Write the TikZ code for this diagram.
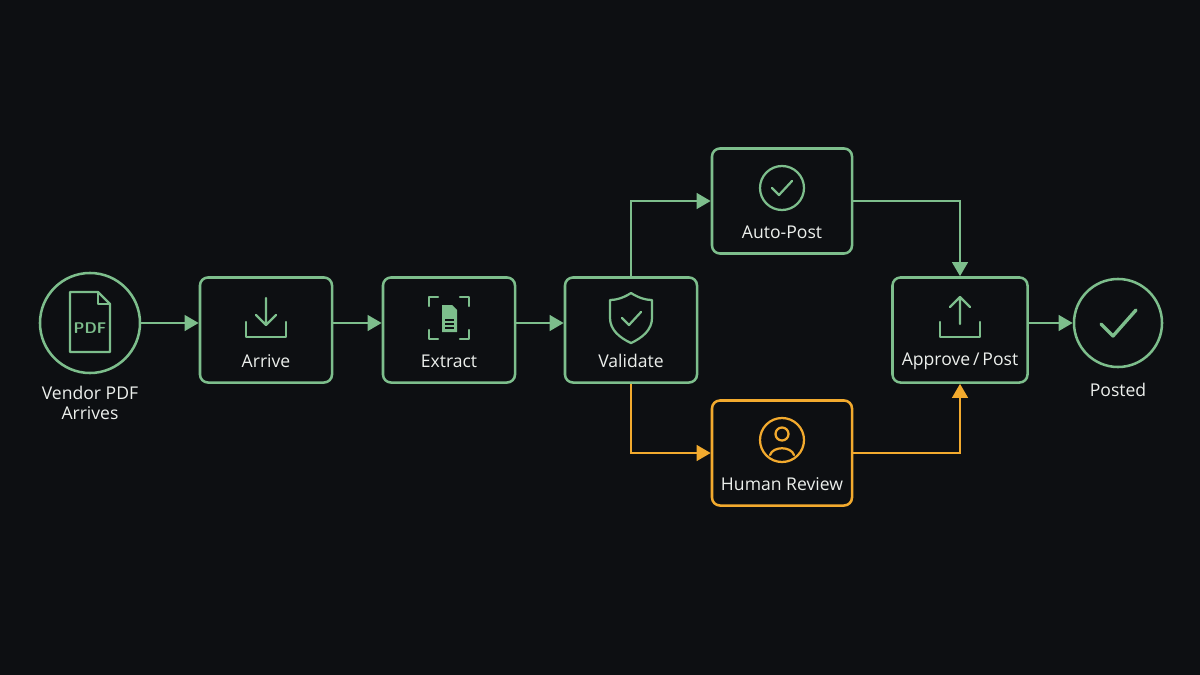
\documentclass[tikz,border=0pt]{standalone}
\usepackage{fontspec}
\setmainfont{Open Sans}
\usetikzlibrary{positioning,arrows.meta}
\definecolor{bgc}{HTML}{0D0F12}
\definecolor{grn}{HTML}{7DBE8C}
\definecolor{org}{HTML}{F2AA2E}
\definecolor{txt}{HTML}{ECEFEC}
\tikzset{
  stage/.style={draw=grn, line width=1.8pt, rounded corners=0.2cm, minimum width=3.3cm, minimum height=2.625cm},
  endc/.style={circle, draw=grn, line width=1.8pt},
  lbl/.style={text=txt, font=\fontsize{12.5}{15}\selectfont, align=center},
  flow/.style={draw=grn, line width=2pt, -{Triangle[length=10pt,width=11pt]}},
  icon/.style={draw=grn, line width=1.6pt, line cap=round, line join=round},
}
\begin{document}
\begin{tikzpicture}[x=0.025cm,y=-0.025cm]
    \fill [bgc] (0,0) rectangle (1200,675);
    % nodes
    \node [endc, minimum size=2.5cm] (vendor) at (90,323) {};
    \node [stage] (arrive) at (266,330) {};
    \node [stage] (extract) at (449,330) {};
    \node [stage] (validate) at (631,330) {};
    \node [stage, minimum width=3.5cm] (auto) at (782,201) {};
    \node [stage, minimum width=3.5cm, draw=org] (human) at (782,453) {};
    \node [stage, minimum width=3.375cm] (approve) at (960,330) {};
    \node [endc, minimum size=2.2cm] (posted) at (1118,323) {};
    % labels
    \node [lbl] (vendor-t) at (90,403) {Vendor PDF\\[-1pt]Arrives};
    \node [lbl] (arrive-t) at (266,361) {Arrive};
    \node [lbl] (extract-t) at (449,361) {Extract};
    \node [lbl] (validate-t) at (631,361) {Validate};
    \node [lbl] (auto-t) at (782,232) {Auto-Post};
    \node [lbl] (human-t) at (782,484) {Human Review};
    \node [lbl] (approve-t) at (960,361) {Approve\,/\,Post};
    \node [lbl] (posted-t) at (1118,390) {Posted};
    % connectors
    \draw [flow] (vendor.east) -- (vendor.east -| arrive.west);
    \draw [flow] (arrive.east |- vendor.east) -- (extract.west |- vendor.east);
    \draw [flow] (extract.east |- vendor.east) -- (validate.west |- vendor.east);
    \draw [flow] (validate.north) |- (auto.west);
    \draw [flow] (auto.east) -| (approve.north);
    \draw [flow, draw=org] (validate.south) |- (human.west);
    \draw [flow, draw=org] (human.east) -| (approve.south);
    \draw [flow] (approve.east |- posted.west) -- (posted.west);
    % icons
    \draw [icon] (70,292) -- (98,292) -- (110,304) -- (110,352) -- (70,352) -- cycle;
    \draw [icon] (98,292) -- (98,304) -- (110,304);
    \node [text=grn, font=\sffamily\bfseries\fontsize{11}{12}\selectfont] (pdf) at (90,328) {PDF};
    \draw [icon] (266,298) -- (266,324) (256,315) -- (266,325) -- (276,315);
    \draw [icon] (246,322) -- (246,337) -- (286,337) -- (286,322);
    \draw [icon] (429,306) -- (429,297) -- (438,297) (460,297) -- (469,297) -- (469,306)
                 (469,330) -- (469,339) -- (460,339) (438,339) -- (429,339) -- (429,330);
    \fill [grn] (442,305) -- (452,305) -- (457,310) -- (457,332) -- (442,332) -- cycle;
    \draw [bgc, line width=1.2pt] (445,320) -- (454,320) (445,324) -- (454,324) (445,328) -- (454,328);
    \draw [icon] (631,293) .. controls (640,299) and (648,300) .. (652,300) -- (652,318)
                 .. controls (652,330) and (642,338) .. (631,343)
                 .. controls (620,338) and (610,330) .. (610,318) -- (610,300)
                 .. controls (614,300) and (622,299) .. (631,293) -- cycle;
    \draw [icon] (622,318) -- (629,325) -- (641,312);
    \draw [icon] (782,188) circle [radius=22];
    \draw [icon] (772,188) -- (779,195) -- (792,181);
    \draw [draw=org, line width=1.6pt] (782,440) circle [radius=22] (782,434) circle [radius=6.5];
    \draw [draw=org, line width=1.6pt, line cap=round] (770,455) .. controls (773,446) and (791,446) .. (794,455);
    \draw [icon] (960,298) -- (960,324) (950,307) -- (960,297) -- (970,307);
    \draw [icon] (940,322) -- (940,337) -- (980,337) -- (980,322);
    \draw [icon, line width=2.4pt] (1101,324) -- (1113,336) -- (1136,310);
\end{tikzpicture}
\end{document}
